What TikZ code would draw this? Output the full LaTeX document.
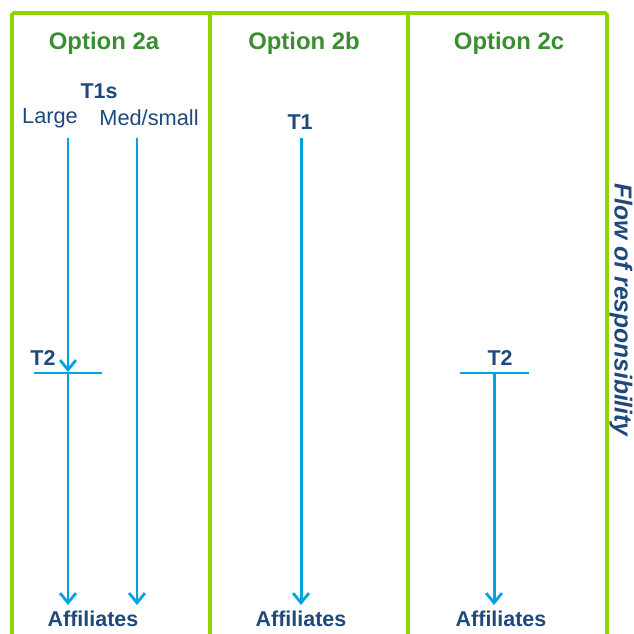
\documentclass[tikz,border=0pt]{standalone}
\usepackage{fontspec}
\setmainfont{Liberation Sans}
\usetikzlibrary{arrows.meta, positioning}
\definecolor{optgreen}{HTML}{3A8E2F}
\definecolor{framelime}{HTML}{92D400}
\definecolor{tierblue}{HTML}{1F497D}
\definecolor{flowcyan}{HTML}{00A2E0}

\begin{document}
\begin{tikzpicture}[x=0.02cm, y=-0.02cm,
  every node/.style={font=\fontsize{12.4}{14}\selectfont, text=tierblue, inner sep=1pt},
  opthead/.style={font=\fontsize{13.6}{16}\selectfont\bfseries, text=optgreen},
  tier/.style={font=\fontsize{12.2}{14}\selectfont\bfseries},
  flowtitle/.style={font=\fontsize{14}{16}\selectfont\bfseries\itshape, rotate=-90},
  flow/.style={-{Straight Barb[length=5.5pt,width=9pt,line width=1.6pt]}, draw=flowcyan, line width=1.7pt},
  tierbar/.style={draw=flowcyan, line width=0.7pt},
  frame/.style={draw=framelime, line width=2.2pt},
]
\useasboundingbox (0,0) rectangle (633,634);

% option columns
\draw[frame, rounded corners=1pt] (12,634) -- (12,13) -- (607,13) -- (607,634);
\draw[frame] (210,13) -- (210,634);
\draw[frame] (408,13) -- (408,634);

\node[opthead] (opta) at (104, 43) {Option 2a};
\node[opthead] (optb) at (304, 43) {Option 2b};
\node[opthead] (optc) at (509, 43) {Option 2c};

% Option 2a
\node[tier] (t1s) at (99, 91) {T1s};
\node (large) at (50, 118) {Large};
\node (medsmall) at (149, 118) {Med/small};
\coordinate (large top) at (68, 138);
\coordinate (med top) at (137, 138);
\node[tier] (t2a) at (43, 358) {T2};
\coordinate (t2a left) at (34, 373);
\coordinate (t2a right) at (102, 373);
\coordinate (t2a mid) at (68, 372);
\coordinate (affa large) at (68, 605);
\coordinate (affa med) at (137, 605);
\node[tier] (affa) at (93, 619) {Affiliates};

\draw[tierbar] (t2a left) -- (t2a right);
\draw[flow] (large top) -- (t2a mid);
\draw[flow] (t2a mid) -- (affa large);
\draw[flow] (med top) -- (affa med);

% Option 2b
\node[tier] (t1) at (300, 122) {T1};
\coordinate (t1 top) at (301, 138);
\coordinate (affb top) at (301, 605);
\node[tier] (affb) at (301, 619) {Affiliates};
\draw[flow] (t1 top) -- (affb top);

% Option 2c
\node[tier] (t2c) at (500, 358) {T2};
\coordinate (t2c left) at (460, 373);
\coordinate (t2c right) at (529, 373);
\coordinate (t2c mid) at (494, 373);
\coordinate (affc top) at (494, 605);
\node[tier] (affc) at (501, 619) {Affiliates};
\draw[tierbar] (t2c left) -- (t2c right);
\draw[flow] (t2c mid) -- (affc top);

\node[flowtitle] (flowlbl) at (621, 310) {Flow of responsibility};

\end{tikzpicture}
\end{document}
